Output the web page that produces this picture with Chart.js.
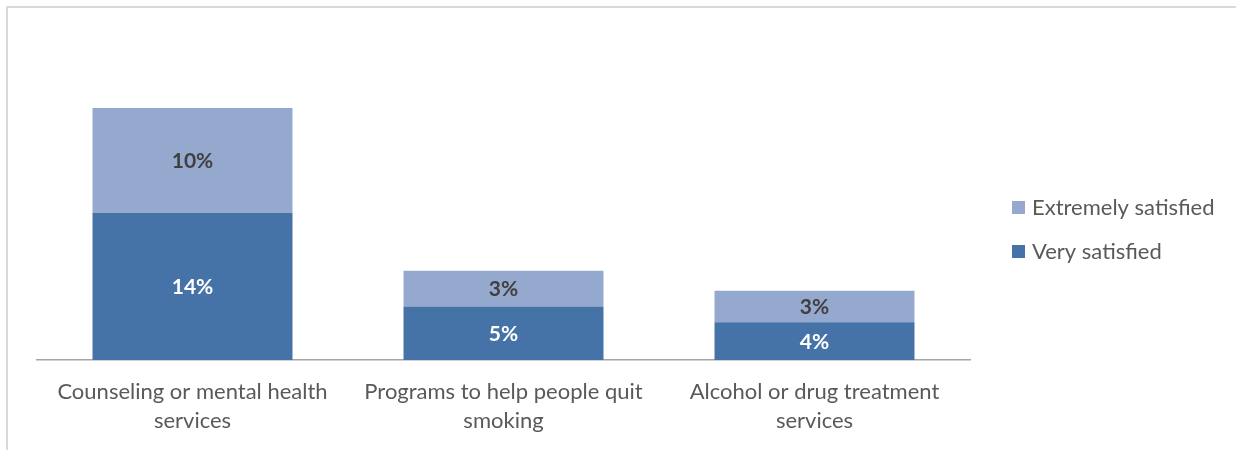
<!DOCTYPE html>
<html>
<head>
<meta charset="utf-8">
<script src="https://cdn.jsdelivr.net/npm/chart.js@4"></script>
<style>
  body { margin: 0; background: #fff; }
  #frame { position: absolute; left: 6px; top: 6px; width: 1240px; height: 460px;
           border-top: 2px solid #d9d9d9; border-left: 2px solid #d9d9d9; }
  #wrap { position: absolute; left: 0; top: 0; width: 1236px; height: 450px; }
</style>
</head>
<body>
<div id="frame"></div>
<div id="wrap"><canvas id="chart"></canvas></div>
<script>
// Chart data
const categories = [
  ['Counseling or mental health', 'services'],
  ['Programs to help people quit', 'smoking'],
  ['Alcohol or drug treatment', 'services']
];
const verySatisfied = [14, 5.1, 3.6];
const extremelySatisfied = [10, 3.4, 3.0];
const seriesNames = ['Very satisfied', 'Extremely satisfied'];
const seriesColors = ['#4572a7', '#95a9cf'];
const labelColors = ['#ffffff', '#404040'];

const FONT = 'Lato, "Open Sans", sans-serif';

// Percent labels in the middle of each segment
const segmentLabels = {
  id: 'segmentLabels',
  afterDatasetsDraw(chart) {
    const ctx = chart.ctx;
    ctx.save();
    ctx.font = 'bold 21px ' + FONT;
    ctx.textAlign = 'center';
    ctx.textBaseline = 'middle';
    chart.data.datasets.forEach((ds, i) => {
      const meta = chart.getDatasetMeta(i);
      ctx.fillStyle = labelColors[i];
      meta.data.forEach((bar, j) => {
        const y = (bar.y + bar.base) / 2;
        ctx.fillText(Math.round(ds.data[j]) + '%', bar.x, y + 1);
      });
    });
    ctx.restore();
  }
};

// Legend on the right, extremely satisfied listed first
const sideLegend = {
  id: 'sideLegend',
  afterDraw(chart) {
    const ctx = chart.ctx;
    ctx.save();
    ctx.font = '22px ' + FONT;
    ctx.textBaseline = 'middle';
    const order = [1, 0];
    order.forEach((idx, k) => {
      const y = 208 + k * 44;
      ctx.fillStyle = seriesColors[idx];
      ctx.fillRect(1012, y - 7, 13, 13);
      ctx.fillStyle = '#595959';
      ctx.fillText(seriesNames[idx], 1032, y);
    });
    ctx.restore();
  }
};

new Chart(document.getElementById('chart'), {
  type: 'bar',
  data: {
    labels: categories,
    datasets: [
      { label: seriesNames[0], data: verySatisfied, backgroundColor: seriesColors[0] },
      { label: seriesNames[1], data: extremelySatisfied, backgroundColor: seriesColors[1] }
    ]
  },
  options: {
    responsive: true,
    maintainAspectRatio: false,
    animation: false,
    layout: { padding: { left: 37, right: 266, top: 97.5, bottom: 0 } },
    datasets: { bar: { categoryPercentage: 1, barPercentage: 0.643 } },
    plugins: { legend: { display: false }, tooltip: { enabled: false } },
    scales: {
      x: {
        stacked: true,
        grid: { display: false, drawTicks: false },
        border: { display: true, color: '#a6a6a6', width: 1.5 },
        ticks: {
          color: '#595959',
          padding: 17.5,
          maxRotation: 0,
          autoSkip: false,
          font: { family: FONT, size: 22, lineHeight: 1.32 }
        },
        afterFit(scale) { scale.height = 90; }
      },
      y: {
        stacked: true,
        display: false,
        min: 0,
        max: 25
      }
    }
  },
  plugins: [segmentLabels, sideLegend]
});
</script>
</body>
</html>
